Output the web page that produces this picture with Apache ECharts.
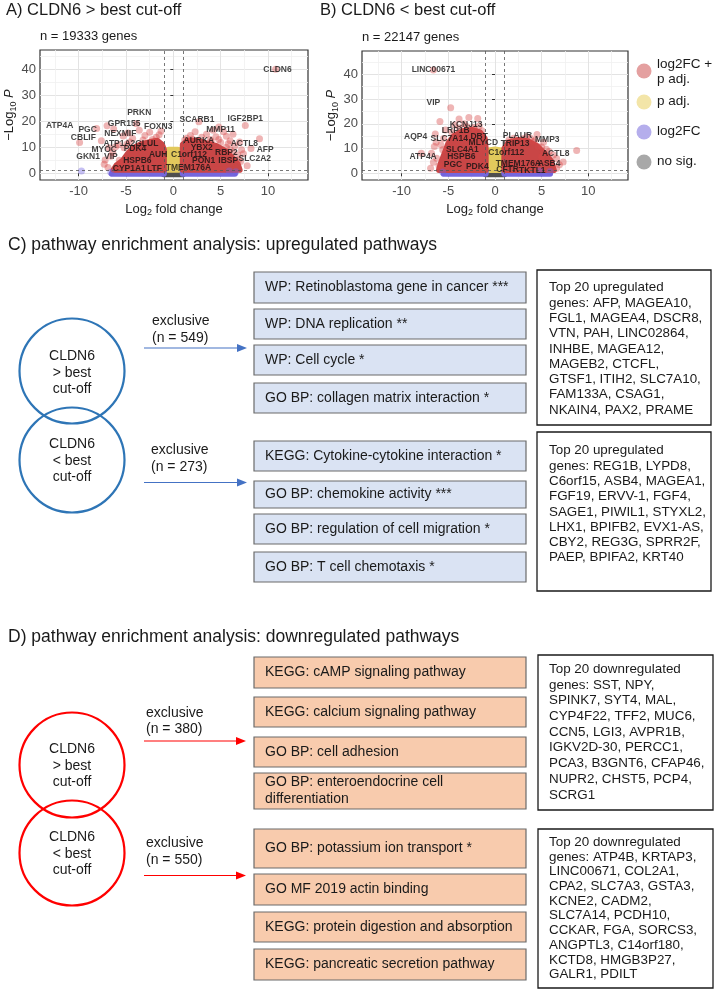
<!DOCTYPE html>
<html>
<head>
<meta charset="utf-8">
<script src="https://cdn.jsdelivr.net/npm/echarts@6/dist/echarts.min.js"></script>
<style>
  html, body { margin: 0; padding: 0; background: #fff; }
  #chart { width: 715px; height: 991px; }
</style>
</head>
<body>
<div id="chart"></div>
<script>
// ---- volcano A: CLDN6 > best cut-off ----
const aSigLeft = [[-1, 1.3], [-6.3, 1.3], [-6.0, 3], [-5.3, 5], [-4.8, 7.5], [-4.3, 9.5], [-3.5, 11], [-2.5, 12], [-1.7, 12.5], [-1.2, 11], [-1, 9]]
const aSigRight = [[1, 1.3], [1, 11], [1.5, 12.5], [2.5, 12.5], [3.5, 11.5], [4.5, 10.5], [5.5, 8.5], [6.2, 6], [6.8, 3.5], [7, 1.3]]
const aPadj = [[-1, 1.3], [1, 1.3], [1, 8.5], [0.5, 9], [-0.5, 9], [-1, 8.5]]
const aNs = [[-1, -0.4], [1, -0.4], [1, 1.3], [-1, 1.3]]
const aFcLeft = [[-6.5, -0.2], [-1, -0.2], [-1, 1.2], [-6.3, 1.2]]
const aFcRight = [[1, -0.2], [6.5, -0.2], [6.5, 1.2], [1, 1.2]]
const aSigPts = [
  [-9.9, 11.8], [-8.1, 17.2], [-7.0, 18.3], [-6.3, 17.0], [-7.6, 12.5], [-7.2, 5.1], [-5.7, 5.0],
  [-6.4, 8.0], [-5.3, 14.3], [-4.8, 15.5], [-4.3, 13.5], [-3.6, 16.5], [-3.0, 14.5], [-2.5, 15.8],
  [-1.8, 13.8], [-5.8, 11.0], [-6.8, 9.8], [-3.9, 19.0], [-5.6, 3.0], [-4.6, 12.0], [-2.2, 13.0],
  [2.7, 19.8], [1.8, 14.5], [2.3, 16.0], [3.5, 15.0], [4.2, 16.5], [4.8, 17.8], [5.3, 16.0],
  [5.6, 14.2], [6.3, 15.0], [6.0, 12.5], [7.6, 18.4], [9.1, 13.3], [7.0, 12.0], [7.2, 9.0],
  [6.5, 10.5], [7.8, 2.9], [7.4, 7.5], [8.2, 9.5], [6.9, 5.2], [5.8, 11.3], [3.9, 13.0],
  [10.8, 40.0], [4.5, 14.0], [1.4, 13.5],
  [-6.6, 6.5], [-6.1, 10.2], [-5.2, 9.8], [-4.9, 11.2], [-3.2, 12.8], [-1.5, 14.8], [-1.3, 16.2],
  [1.2, 12.8], [2.0, 13.2], [3.0, 13.8], [4.0, 12.2], [5.0, 11.8], [5.6, 10.0], [6.3, 8.2],
  [6.8, 7.0], [7.1, 4.5], [6.0, 9.0], [4.8, 13.0], [-7.3, 3.5], [-6.9, 2.2]
]
const aFcPts = [[-9.7, 0.9], [-6.6, 0.4], [6.6, 0.6], [5.9, 0.9]]
const aLabels = [
  ['CLDN6', 11.0, 40.0], ['IGF2BP1', 7.6, 21.0], ['SCARB1', 2.5, 20.8], ['PRKN', -3.6, 23.3],
  ['ATP4A', -12.0, 18.2], ['GPR155', -5.2, 19.2], ['FOXN3', -1.6, 17.9], ['PGC', -9.05, 16.9],
  ['MMP11', 5.0, 16.9], ['NEXMIF', -5.6, 15.3], ['CBLIF', -9.5, 13.6], ['AURKA', 2.7, 12.6],
  ['ATP1A2', -5.7, 11.5], ['GLUL', -2.8, 11.5], ['ACTL8', 7.5, 11.2], ['YBX2', 3.0, 10.0],
  ['AFP', 9.7, 9.2], ['MYOC', -7.3, 9.0], ['PDK4', -4.05, 9.5], ['RBP2', 5.6, 8.1],
  ['AUH', -1.6, 7.3], ['C1orf112', 1.65, 7.3], ['GKN1', -9.0, 6.3], ['VIP', -6.6, 6.3],
  ['SLC2A2', 8.6, 5.8], ['HSPB6', -3.8, 4.9], ['PON1', 3.2, 4.9], ['IBSP', 5.8, 4.9],
  ['CYP1A1', -4.65, 1.9], ['LTF', -2.0, 1.9], ['TMEM176A', 1.6, 2.3]
]

// ---- volcano B: CLDN6 < best cut-off ----
const bSigLeft = [[-1, 1.3], [-6.0, 1.3], [-5.8, 4], [-5.4, 8], [-5.0, 12], [-4.4, 15], [-3.5, 17], [-2.5, 17.5], [-1.6, 16.5], [-1.1, 14], [-1, 10]]
const bSigRight = [[1, 1.3], [1, 10], [1.5, 12.5], [2.5, 13.5], [3.5, 13], [4.5, 11], [5.3, 8], [6, 5], [6.3, 1.3]]
const bPadj = [[-1, 1.3], [1, 1.3], [1, 9], [0, 9.6], [-1, 9]]
const bNs = [[-1, -0.4], [1, -0.4], [1, 1.3], [-1, 1.3]]
const bFcLeft = [[-5.5, -0.2], [-1, -0.2], [-1, 1.2], [-5.4, 1.2]]
const bFcRight = [[1, -0.2], [5.9, -0.2], [5.9, 1.2], [1, 1.2]]
const bSigPts = [
  [-6.6, 41.7], [-4.75, 26.5], [-5.9, 20.9], [-3.85, 21.9], [-2.8, 22.5], [-1.85, 22.1], [-1.7, 19.1],
  [-6.4, 15.9], [-6.5, 10.8], [-6.8, 8.1], [-6.25, 6.1], [-6.0, 3.1], [-7.9, 8.1], [-5.5, 14.1],
  [-5.3, 17.5], [-3.3, 20.0], [-2.3, 18.5], [-4.3, 19.5],
  [4.5, 15.7], [5.5, 9.7], [8.75, 9.2], [7.3, 4.6], [6.6, 2.0], [4.1, 12.8], [4.6, 10.8],
  [3.4, 14.8], [6.25, 7.4], [5.0, 6.7], [5.2, 12.5], [3.0, 14.0], [1.5, 13.5],
  [-6.3, 12.5], [-5.8, 11.5], [-5.6, 9.5], [-6.6, 4.5], [-4.6, 16.5], [-3.8, 18.2], [-3.0, 18.8],
  [-2.2, 17.8], [-1.4, 17.2], [1.3, 12.2], [2.0, 14.2], [3.8, 14.2], [4.3, 13.4], [5.0, 10.6],
  [5.8, 8.8], [6.6, 6.0], [6.9, 3.5], [-6.9, 2.0]
]
const bFcPts = [[-5.6, 0.5], [5.9, 0.7], [4.8, 0.9]]
const bLabels = [
  ['LINC00671', -6.6, 41.7], ['VIP', -6.6, 28.7], ['KCNJ13', -3.1, 19.8], ['LRP1B', -4.2, 17.4],
  ['AQP4', -8.5, 14.8], ['SLC7A14', -4.9, 13.9], ['DBT', -1.7, 14.8], ['MLYCD', -1.25, 12.2],
  ['PLAUR', 2.4, 15.1], ['MMP3', 5.6, 13.6], ['TRIP13', 2.15, 12.1], ['C1orf112', 1.2, 8.5],
  ['SLC4A1', -3.5, 9.6], ['HSPB6', -3.6, 6.9], ['ATP4A', -7.7, 6.7], ['ACTL8', 6.5, 7.8],
  ['PGC', -4.5, 3.6], ['PDK4', -1.9, 2.7], ['TMEM176A', 2.5, 3.9], ['ASB4', 5.8, 3.8],
  ['CFTR', 1.35, 1.3], ['TKTL1', 4.0, 0.9]
]

const xTicks = [-10, -5, 0, 5, 10]
const xMinor = [-12.5, -7.5, -2.5, 2.5, 7.5, 12.5]
const yTicks = [0, 10, 20, 30, 40]
const yMinor = [5, 15, 25, 35, 45]
const fcCut = [-1, 1]
const pCut = 1.3
const legendNames = ['log2FC +\np adj.', 'p adj.', 'log2FC', 'no sig.']

// ---- pathway diagrams ----
const upPathways = [
  'WP: Retinoblastoma gene in cancer ***', 'WP: DNA replication **', 'WP: Cell cycle *',
  'GO BP: collagen matrix interaction *', 'KEGG: Cytokine-cytokine interaction *',
  'GO BP: chemokine activity ***', 'GO BP: regulation of cell migration *', 'GO BP: T cell chemotaxis *'
]
const downPathways = [
  'KEGG: cAMP signaling pathway', 'KEGG: calcium signaling pathway', 'GO BP: cell adhesion',
  'GO BP: enteroendocrine cell\ndifferentiation', 'GO BP: potassium ion transport *',
  'GO MF 2019 actin binding', 'KEGG: protein digestion and absorption', 'KEGG: pancreatic secretion pathway'
]
const upCounts = ['(n = 549)', '(n = 273)']
const downCounts = ['(n = 380)', '(n = 550)']
const upGenes1 = ['Top 20 upregulated', 'genes: AFP, MAGEA10,', 'FGL1, MAGEA4, DSCR8,', 'VTN, PAH, LINC02864,', 'INHBE, MAGEA12,', 'MAGEB2, CTCFL,', 'GTSF1, ITIH2, SLC7A10,', 'FAM133A, CSAG1,', 'NKAIN4, PAX2, PRAME']
const upGenes2 = ['Top 20 upregulated', 'genes: REG1B, LYPD8,', 'C6orf15, ASB4, MAGEA1,', 'FGF19, ERVV-1, FGF4,', 'SAGE1, PIWIL1, STYXL2,', 'LHX1, BPIFB2, EVX1-AS,', 'CBY2, REG3G, SPRR2F,', 'PAEP, BPIFA2, KRT40']
const downGenes1 = ['Top 20 downregulated', 'genes: SST, NPY,', 'SPINK7, SYT4, MAL,', 'CYP4F22, TFF2, MUC6,', 'CCN5, LGI3, AVPR1B,', 'IGKV2D-30, PERCC1,', 'PCA3, B3GNT6, CFAP46,', 'NUPR2, CHST5, PCP4,', 'SCRG1']
const downGenes2 = ['Top 20 downregulated', 'genes: ATP4B, KRTAP3,', 'LINC00671, COL2A1,', 'CPA2, SLC7A3, GSTA3,', 'KCNE2, CADM2,', 'SLC7A14, PCDH10,', 'CCKAR, FGA, SORCS3,', 'ANGPTL3, C14orf180,', 'KCTD8, HMGB3P27,', 'GALR1, PDILT']

const FF = '"Liberation Sans", Arial, sans-serif'
const RED_BLOB = '#c94646'
const RED_PT = 'rgba(214, 70, 70, 0.5)'
const YEL = '#e2c95c'
const BLUE = '#7467dd'
const BLUE_PT = 'rgba(110, 96, 225, 0.5)'
const GREY = '#4f4f4f'
const GENE_FONT = 13.4

const chart = echarts.init(document.getElementById('chart'))

function blob (shape, color, ax) {
  return {
    type: 'custom', xAxisIndex: ax, yAxisIndex: ax, silent: true, z: 2,
    data: [[0, 0]],
    renderItem: function (params, api) {
      return {
        type: 'polygon',
        shape: { points: shape.map(p => api.coord(p)) },
        style: { fill: color, stroke: color, lineWidth: 6, lineJoin: 'round' }
      }
    }
  }
}

function pts (data, color, ax) {
  return { type: 'scatter', xAxisIndex: ax, yAxisIndex: ax, data: data, symbolSize: 7, itemStyle: { color: color }, silent: true, z: 3 }
}

function labels (list, ax) {
  return {
    type: 'scatter', xAxisIndex: ax, yAxisIndex: ax, symbolSize: 0, silent: true, z: 6,
    data: list.map(l => ({ name: l[0], value: [l[1], l[2]] })),
    label: { show: true, position: 'inside', formatter: '{b}', fontSize: 8.5, fontWeight: 'bold', color: '#111', fontFamily: FF }
  }
}

function cutLines (ax) {
  return {
    type: 'line', xAxisIndex: ax, yAxisIndex: ax, data: [], silent: true, z: 4,
    markLine: {
      symbol: 'none', silent: true, label: { show: false },
      lineStyle: { color: '#555', type: [3, 3], width: 0.8 },
      data: [{ xAxis: fcCut[0] }, { xAxis: fcCut[1] }, { yAxis: pCut }]
    }
  }
}

function xMajor (grid, min, max) {
  return {
    type: 'value', gridIndex: grid, min: min, max: max, position: 'bottom',
    axisLine: { show: false },
    axisTick: { show: true, length: 3, lineStyle: { color: '#333' }, customValues: xTicks },
    axisLabel: { customValues: xTicks, color: '#4d4d4d', fontSize: 13, margin: 5, fontFamily: FF },
    splitLine: { show: true, lineStyle: { color: '#e3e3e3', width: 1 } },
    name: '{a|Log}{s|2}{a| fold change}', nameLocation: 'middle', nameGap: 21,
    nameTextStyle: {
      rich: {
        a: { fontSize: 13, color: '#222', fontFamily: FF, lineHeight: 16, verticalAlign: 'middle' },
        s: { fontSize: 9, color: '#222', fontFamily: FF, lineHeight: 9, verticalAlign: 'bottom' }
      }
    }
  }
}

function xMinorAxis (grid, min, max) {
  return {
    type: 'value', gridIndex: grid, min: min, max: max, position: 'top',
    axisLine: { show: false }, axisLabel: { show: false, customValues: xMinor },
    axisTick: { show: false, customValues: xMinor },
    splitLine: { show: true, lineStyle: { color: '#f0f0f0', width: 0.8 } }
  }
}

function yMajor (grid, min, max) {
  return {
    type: 'value', gridIndex: grid, min: min, max: max, position: 'left',
    axisLine: { show: false },
    axisTick: { show: true, length: 3, lineStyle: { color: '#333' }, customValues: yTicks },
    axisLabel: { customValues: yTicks, color: '#4d4d4d', fontSize: 13, margin: 4, fontFamily: FF },
    splitLine: { show: true, lineStyle: { color: '#e3e3e3', width: 1 } },
    name: '{a|\u2212Log}{s|10}{a| }{i|P}', nameLocation: 'middle', nameGap: 22, nameRotate: 90,
    nameTextStyle: {
      rich: {
        a: { fontSize: 13, color: '#222', fontFamily: FF, lineHeight: 16, verticalAlign: 'middle' },
        s: { fontSize: 9, color: '#222', fontFamily: FF, lineHeight: 9, verticalAlign: 'bottom' },
        i: { fontSize: 13, color: '#222', fontFamily: FF, fontStyle: 'italic', lineHeight: 16, verticalAlign: 'middle' }
      }
    }
  }
}

function yMinorAxis (grid, min, max) {
  return {
    type: 'value', gridIndex: grid, min: min, max: max, position: 'right',
    axisLine: { show: false }, axisLabel: { show: false, customValues: yMinor },
    axisTick: { show: false, customValues: yMinor },
    splitLine: { show: true, lineStyle: { color: '#f0f0f0', width: 0.8 } }
  }
}

// graphic helpers
const g = []
function txt (x, y, s, size, opt) {
  opt = opt || {}
  g.push({
    type: 'text', x: x, y: y, silent: true, z: 100,
    style: {
      text: s, fill: opt.color || '#1a1a1a',
      font: (opt.italic ? 'italic ' : '') + (opt.bold ? 'bold ' : '') + size + 'px ' + FF,
      textAlign: opt.align || 'left', align: opt.align || 'left',
      textVerticalAlign: 'middle', verticalAlign: 'middle',
      lineHeight: opt.lineHeight || size * 1.2
    }
  })
}
function rect (x, y, w, h, fill, stroke, lw) {
  g.push({ type: 'rect', silent: true, z: 90, shape: { x: x, y: y, width: w, height: h }, style: { fill: fill, stroke: stroke, lineWidth: lw } })
}
function ring (cx, cy, r, color) {
  g.push({ type: 'circle', silent: true, z: 95, shape: { cx: cx, cy: cy, r: r }, style: { fill: 'transparent', stroke: color, lineWidth: 2.2 } })
}
function arrow (x1, x2, y, color) {
  g.push({ type: 'line', silent: true, z: 95, shape: { x1: x1, y1: y, x2: x2 - 8, y2: y }, style: { stroke: color, lineWidth: 1.1 } })
  g.push({ type: 'polygon', silent: true, z: 95, shape: { points: [[x2 - 10, y - 4], [x2, y], [x2 - 10, y + 4]] }, style: { fill: color } })
}

// titles
txt(6, 10, 'A) CLDN6 > best cut-off', 16.5)
txt(320, 10, 'B) CLDN6 < best cut-off', 16.5)
txt(40, 36, 'n = 19333 genes', 13)
txt(362, 37, 'n = 22147 genes', 13)

// legend
const legendColors = ['#e4a0a0', '#f3e5a8', '#b5aeec', '#a8a8a8']
const legendY = [71, 102, 132, 162]
legendNames.forEach((n, i) => {
  g.push({ type: 'circle', silent: true, z: 100, shape: { cx: 644, cy: legendY[i], r: 7.5 }, style: { fill: legendColors[i] } })
  if (i === 0) {
    txt(657, 64.5, 'log2FC +', 13.5)
    txt(657, 79.5, 'p adj.', 13.5)
  } else {
    txt(657, legendY[i] - 0.5, n, 13.5)
  }
})

// section C
txt(8, 245, 'C) pathway enrichment analysis: upregulated pathways', 17.5)
ring(72, 371, 52.5, '#2e75b6')
ring(72, 460, 52.5, '#2e75b6')
;[['CLDN6', 356], ['> best', 373], ['cut-off', 389]].forEach(t => txt(72, t[1], t[0], 14, { align: 'center' }))
;[['CLDN6', 444], ['< best', 461], ['cut-off', 477]].forEach(t => txt(72, t[1], t[0], 14, { align: 'center' }))
txt(152, 321, 'exclusive', 14)
txt(152, 338, upCounts[0], 14)
txt(151, 450, 'exclusive', 14)
txt(151, 467, upCounts[1], 14)
arrow(144, 247, 348, '#4472c4')
arrow(144, 247, 482.5, '#4472c4')
const upTops = [272, 309, 345, 383, 441, 481, 514, 552]
const upH = [31, 30, 30, 30, 30, 27, 30, 30]
upPathways.forEach((p, i) => {
  rect(254, upTops[i], 272, upH[i], '#dae3f3', '#6b6b6b', 1.2)
  txt(265, upTops[i] + upH[i] / 2, p, 14)
})
rect(537, 270, 174, 155, '#fff', '#1a1a1a', 1.3)
upGenes1.forEach((s, i) => txt(549, 287.7 + 15.3 * i, s, GENE_FONT))
rect(537, 432, 174, 159, '#fff', '#1a1a1a', 1.3)
upGenes2.forEach((s, i) => txt(549, 450.7 + 15.3 * i, s, GENE_FONT))

// section D
txt(8, 637, 'D) pathway enrichment analysis: downregulated pathways', 17.5)
ring(72, 765, 52.5, '#ff0000')
ring(72, 853, 52.5, '#ff0000')
;[['CLDN6', 749], ['> best', 766], ['cut-off', 782]].forEach(t => txt(72, t[1], t[0], 14, { align: 'center' }))
;[['CLDN6', 837], ['< best', 854], ['cut-off', 870]].forEach(t => txt(72, t[1], t[0], 14, { align: 'center' }))
txt(146, 713, 'exclusive', 14)
txt(146, 729.5, downCounts[0], 14)
txt(146, 843.5, 'exclusive', 14)
txt(146, 860, downCounts[1], 14)
arrow(144, 246, 741, '#ff0000')
arrow(144, 246, 875.5, '#ff0000')
const downTops = [657, 697, 737, 773, 829, 874, 912, 949]
const downH = [31, 30, 30, 36, 39, 31, 30, 31]
downPathways.forEach((p, i) => {
  rect(254, downTops[i], 272, downH[i], '#f8cbad', '#6b6b6b', 1.2)
  txt(265, downTops[i] + downH[i] / 2, p, 14, { lineHeight: 17 })
})
rect(538, 655, 175, 155, '#fff', '#1a1a1a', 1.3)
downGenes1.forEach((s, i) => txt(549, 669.3 + 15.7 * i, s, GENE_FONT))
rect(538, 829, 175, 159, '#fff', '#1a1a1a', 1.3)
downGenes2.forEach((s, i) => txt(549, 842.3 + 14.7 * i, s, GENE_FONT))

chart.setOption({
  animation: false,
  backgroundColor: '#fff',
  grid: [
    { left: 40, top: 50, width: 268, height: 130, show: true, borderColor: '#333', borderWidth: 1.2, backgroundColor: '#fff' },
    { left: 362, top: 51, width: 266, height: 129, show: true, borderColor: '#333', borderWidth: 1.2, backgroundColor: '#fff' }
  ],
  xAxis: [
    xMajor(0, -14.08, 14.22), xMajor(1, -14.25, 14.25),
    xMinorAxis(0, -14.08, 14.22), xMinorAxis(1, -14.25, 14.25)
  ],
  yAxis: [
    yMajor(0, -2.6, 47.4), yMajor(1, -2.7, 49.4),
    yMinorAxis(0, -2.6, 47.4), yMinorAxis(1, -2.7, 49.4)
  ],
  series: [
    blob(aNs, GREY, 0), blob(aPadj, YEL, 0), blob(aFcLeft, BLUE, 0), blob(aFcRight, BLUE, 0),
    blob(aSigLeft, RED_BLOB, 0), blob(aSigRight, RED_BLOB, 0),
    pts(aSigPts, RED_PT, 0), pts(aFcPts, BLUE_PT, 0), cutLines(0), labels(aLabels, 0),
    blob(bNs, GREY, 1), blob(bPadj, YEL, 1), blob(bFcLeft, BLUE, 1), blob(bFcRight, BLUE, 1),
    blob(bSigLeft, RED_BLOB, 1), blob(bSigRight, RED_BLOB, 1),
    pts(bSigPts, RED_PT, 1), pts(bFcPts, BLUE_PT, 1), cutLines(1), labels(bLabels, 1)
  ],
  graphic: g
})
</script>
</body>
</html>
